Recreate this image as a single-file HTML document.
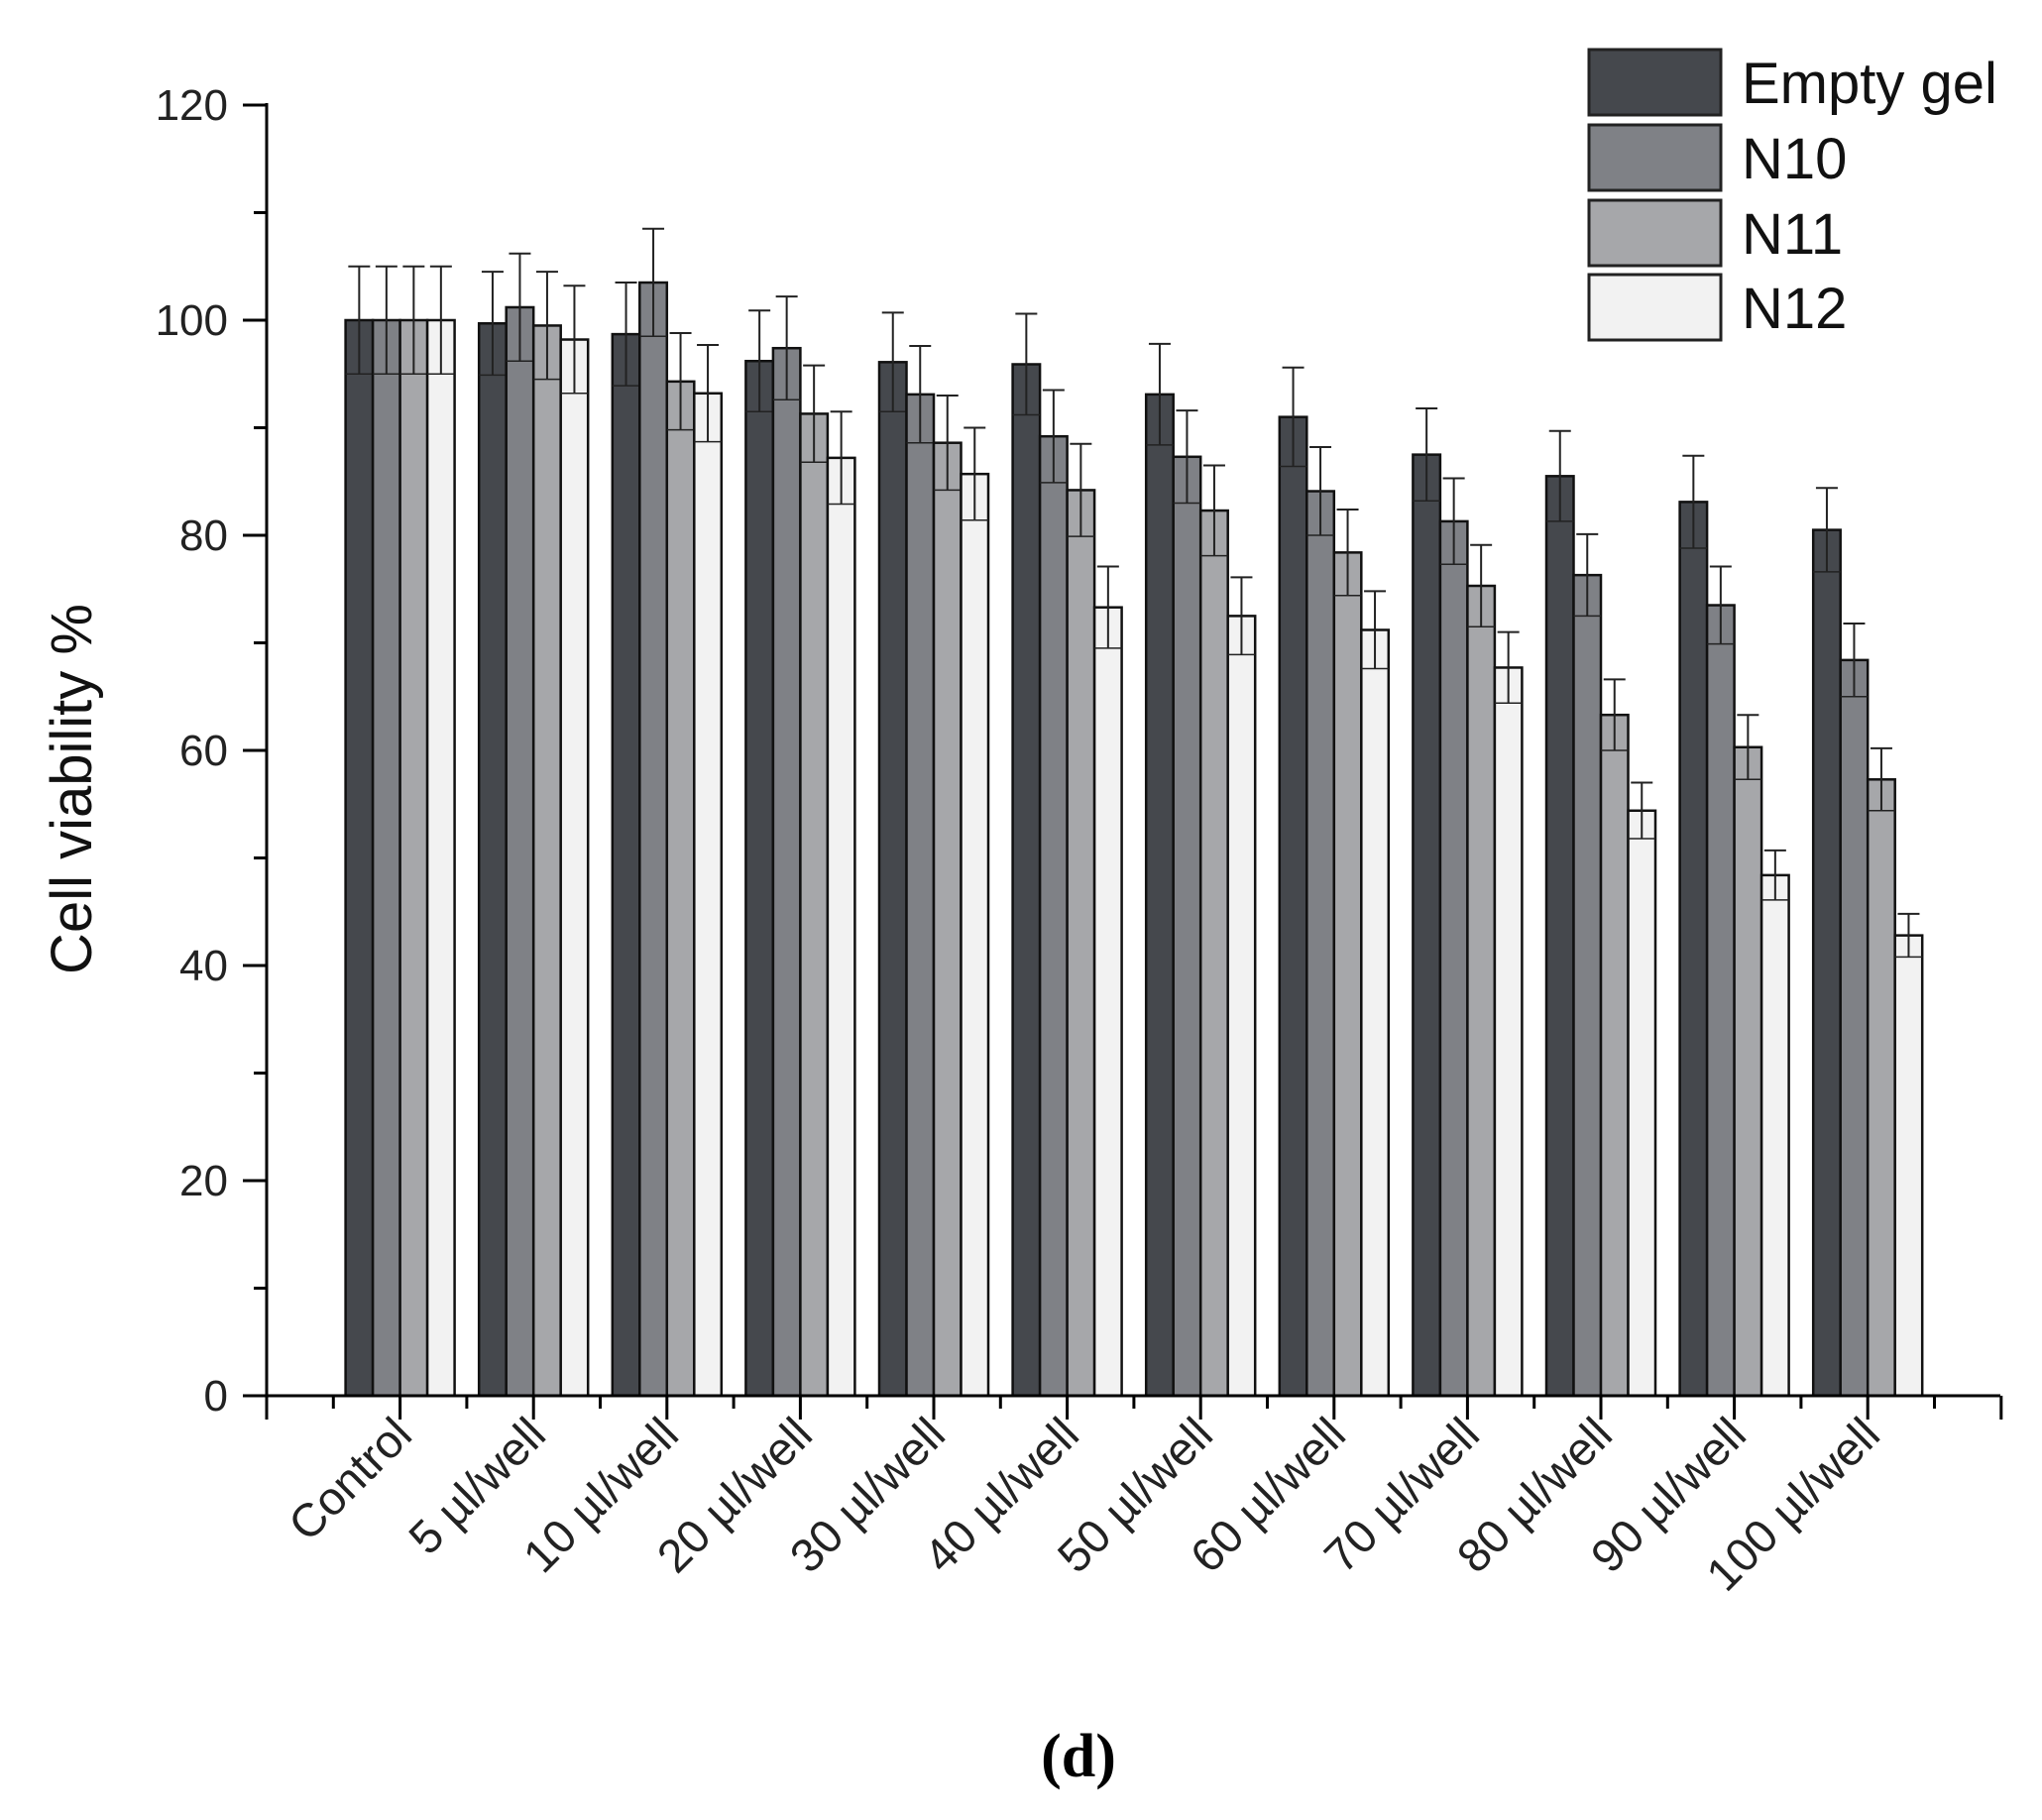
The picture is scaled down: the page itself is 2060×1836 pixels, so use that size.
<!DOCTYPE html>
<html><head><meta charset="utf-8"><style>
html,body{margin:0;padding:0;background:#fff;}
svg{display:block;font-family:"Liberation Sans",Arial,sans-serif;}
</style></head><body>
<svg id="s" width="2060" height="1836" viewBox="0 0 2060 1836" xmlns="http://www.w3.org/2000/svg">
<g id="bars"></g>
<g stroke="#000" stroke-width="3" fill="none">
<line x1="269" y1="104" x2="269" y2="1409"/>
<line x1="268" y1="1408" x2="2018" y2="1408"/>
</g>
<g id="ticks" stroke="#000" stroke-width="3"></g>
<g font-size="44" fill="#222" text-anchor="end">
<text x="230" y="121">120</text>
<text x="230" y="338">100</text>
<text x="230" y="555">80</text>
<text x="230" y="772">60</text>
<text x="230" y="989">40</text>
<text x="230" y="1206">20</text>
<text x="230" y="1423">0</text>
</g>
<text transform="translate(92,796) rotate(-90)" font-size="58" text-anchor="middle" fill="#111">Cell viability %</text>
<g font-size="47" fill="#222" text-anchor="end">
<text transform="translate(418,1450) rotate(-45)">Control</text>
<text transform="translate(553,1450) rotate(-45)">5 µl/well</text>
<text transform="translate(687,1450) rotate(-45)">10 µl/well</text>
<text transform="translate(822,1450) rotate(-45)">20 µl/well</text>
<text transform="translate(956,1450) rotate(-45)">30 µl/well</text>
<text transform="translate(1091,1450) rotate(-45)">40 µl/well</text>
<text transform="translate(1226,1450) rotate(-45)">50 µl/well</text>
<text transform="translate(1360,1450) rotate(-45)">60 µl/well</text>
<text transform="translate(1495,1450) rotate(-45)">70 µl/well</text>
<text transform="translate(1629,1450) rotate(-45)">80 µl/well</text>
<text transform="translate(1764,1450) rotate(-45)">90 µl/well</text>
<text transform="translate(1899,1450) rotate(-45)">100 µl/well</text>
</g>
<g stroke="#222" stroke-width="3">
<rect x="1603" y="50" width="133" height="66" fill="#45484d"/>
<rect x="1603" y="126" width="133" height="66" fill="#7f8186"/>
<rect x="1603" y="202" width="133" height="66" fill="#a6a7aa"/>
<rect x="1603" y="277" width="133" height="66" fill="#f2f2f2"/>
</g>
<g font-size="58" fill="#111">
<text x="1757" y="104">Empty gel</text>
<text x="1757" y="180">N10</text>
<text x="1757" y="256">N11</text>
<text x="1757" y="331">N12</text>
</g>
<text x="1088" y="1792" font-family="'Liberation Serif',serif" font-weight="bold" font-size="62" text-anchor="middle" fill="#000">(d)</text>
</svg>
<script>
var d=[[100,5,100,5,100,5,100,5],[99.7,4.8,101.2,5,99.5,5,98.2,5],[98.7,4.8,103.5,5,94.3,4.5,93.2,4.5],[96.2,4.7,97.4,4.8,91.3,4.5,87.2,4.3],[96.1,4.6,93.1,4.5,88.6,4.4,85.7,4.3],[95.9,4.7,89.2,4.3,84.2,4.3,73.3,3.8],[93.1,4.7,87.3,4.3,82.3,4.2,72.5,3.6],[91,4.6,84.1,4.1,78.4,4,71.2,3.6],[87.5,4.3,81.3,4,75.3,3.8,67.7,3.3],[85.5,4.2,76.3,3.8,63.3,3.3,54.4,2.6],[83.1,4.3,73.5,3.6,60.3,3,48.4,2.3],[80.5,3.9,68.4,3.4,57.3,2.9,42.8,2]];
var col=["#45484d","#7f8186","#a6a7aa","#f2f2f2"];
var NS="http://www.w3.org/2000/svg";
function Y(v){return 1408-v*10.85;}
function el(p,t,a){var e=document.createElementNS(NS,t);for(var k in a)e.setAttribute(k,a[k]);p.appendChild(e);return e;}
var g=document.getElementById("bars"),tk=document.getElementById("ticks");
var bw=27.5;
for(var i=0;i<12;i++){var cx=269+134.6*(i+1);var x0=cx-2*bw;
 for(var j=0;j<4;j++){var v=d[i][2*j],e=d[i][2*j+1];var x=x0+j*bw;
  el(g,"rect",{x:x,y:Y(v),width:bw,height:1408-Y(v),fill:col[j],stroke:"#111","stroke-width":2.5});
  var m=x+bw/2;
  el(g,"line",{x1:m,y1:Y(v+e),x2:m,y2:Y(v-e),stroke:"#222","stroke-width":2});
  el(g,"line",{x1:m-11,y1:Y(v+e),x2:m+11,y2:Y(v+e),stroke:"#222","stroke-width":2});
  el(g,"line",{x1:x,y1:Y(v-e),x2:x+bw,y2:Y(v-e),stroke:"#222","stroke-width":1.5});
 }}
for(var i=0;i<=13;i++){var x=269+134.6*i;el(tk,"line",{x1:x,y1:1408,x2:x,y2:1432});
 if(i<13){var xm=x+67.3;el(tk,"line",{x1:xm,y1:1408,x2:xm,y2:1421});}}
for(var v=0;v<=120;v+=10){var y=Y(v);el(tk,"line",{x1:v%20==0?245:256,y1:y,x2:269,y2:y});}
</script>
</body></html>
